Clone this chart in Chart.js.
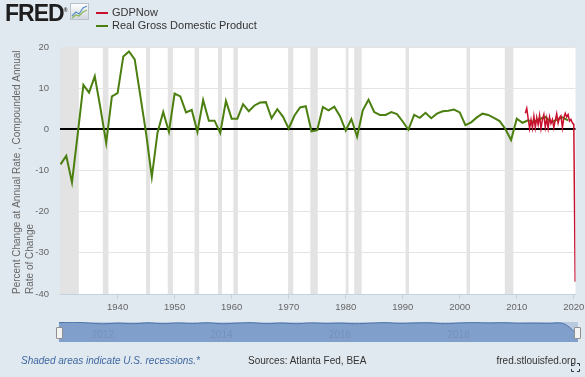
<!DOCTYPE html>
<html>
<head>
<meta charset="utf-8">
<script src="https://cdn.jsdelivr.net/npm/chart.js@4.4.0/dist/chart.umd.min.js"></script>
<style>
  html, body { margin: 0; padding: 0; }
  body {
    width: 585px; height: 377px; position: relative; overflow: hidden;
    background: #e1e9f0; font-family: "Liberation Sans", Arial, sans-serif;
  }
  #main { position: absolute; left: 0; top: 0; }
  #nav { position: absolute; left: 59px; top: 322px; background: #b9cae0; }
  .logo { position: absolute; left: 5px; top: 0px; font: bold 23px "Liberation Sans", Arial, sans-serif; color: #1e1e1e; letter-spacing: -1px; }
  .logo sup { font-size: 5px; letter-spacing: 0; }
  .icon { position: absolute; left: 70px; top: 3px; }
  .legend { position: absolute; left: 96px; font-size: 11px; color: #333; }
  .legend span { display: inline-block; width: 12px; height: 2px; margin-right: 4px; vertical-align: middle; }
  .handle { position: absolute; width: 5px; height: 10px; background: #f3f3f3; border: 1px solid #8f8f8f; border-radius: 1px; }
  .foot { position: absolute; top: 355px; font-size: 10px; color: #333; white-space: nowrap; }
</style>
</head>
<body>
<canvas id="main" width="585" height="377"></canvas>
<canvas id="nav" width="519" height="20"></canvas>

<div class="logo">FRED<sup>®</sup></div>
<svg class="icon" width="19" height="17" viewBox="0 0 19 17">
  <defs><linearGradient id="g" x1="0" y1="0" x2="0" y2="1"><stop offset="0" stop-color="#ffffff"/><stop offset="1" stop-color="#cfd6dc"/></linearGradient></defs>
  <rect x="0.5" y="0.5" width="18" height="16" fill="url(#g)" stroke="#b9c2ca"/>
  <polyline points="2,13 6,9 9,11 13,5 17,3" fill="none" stroke="#5a8fc4" stroke-width="1.2"/>
  <polyline points="2,15 6,12 9,13 13,9 17,7" fill="none" stroke="#8cb85a" stroke-width="1.2"/>
</svg>
<div class="legend" style="top:6px"><span style="background:#c8102e"></span>GDPNow</div>
<div class="legend" style="top:19px"><span style="background:#4b7f10"></span>Real Gross Domestic Product</div>

<div class="handle" style="left:56px; top:327px"></div>
<div class="handle" style="left:574px; top:327px"></div>

<div class="foot" style="left:21px; color:#3d67a0; font-style:italic">Shaded areas indicate U.S. recessions.*</div>
<div class="foot" style="left:248px">Sources: Atlanta Fed, BEA</div>
<div class="foot" style="right:9px">fred.stlouisfed.org</div>
<svg style="position:absolute; left:571px; top:363px" width="9" height="9" viewBox="0 0 9 9">
  <path d="M0.5 3V0.5H3M6 0.5H8.5V3M8.5 6V8.5H6M3 8.5H0.5V6" fill="none" stroke="#333" stroke-width="1"/>
</svg>

<script>
// annual real GDP growth, 1930-2019
const gdpYears = Array.from({ length: 90 }, (_, i) => 1930 + i);
const gdpGrowth = [
  -8.5, -6.4, -12.9, -1.2, 10.8, 8.9, 12.9, 5.1, -3.3, 8.0,
  8.8, 17.7, 18.9, 17.0, 8.0, -1.0, -11.6, -0.8, 4.2, -0.6,
  8.7, 8.0, 4.1, 4.7, -0.6, 7.1, 2.1, 2.1, -0.9, 6.9,
  2.6, 2.6, 6.1, 4.4, 5.8, 6.5, 6.6, 2.7, 4.9, 3.1,
  0.2, 3.3, 5.3, 5.6, -0.5, -0.2, 5.4, 4.6, 5.5, 3.2,
  -0.3, 2.5, -1.8, 4.6, 7.2, 4.2, 3.5, 3.5, 4.2, 3.7,
  1.9, -0.1, 3.5, 2.8, 4.0, 2.7, 3.8, 4.4, 4.5, 4.8,
  4.1, 1.0, 1.7, 2.9, 3.8, 3.5, 2.8, 2.0, 0.1, -2.6,
  2.6, 1.6, 2.2, 1.8, 2.5, 3.0, 1.7, 2.3, 2.9, 2.2
];

// GDPNow quarterly nowcasts, 2011Q3-2020Q2
const gdpNowStart = 2011.5;
const gdpNow = [
  3.9, 5.1, 2.6, 0.2, 2.3, 0.3, 3.2, 0.4, 2.9, 1.1,
  3.4, 0.2, 2.4, 3.6, 0.5, 2.7, 0.3, 3.0, 1.4, 2.4,
  0.4, 2.2, 3.8, 1.5, 2.9, 3.3, 0.4, 2.8, 3.9, 3.0,
  3.6, 2.0, 2.4, 1.6, 1.2, -37.0
];

const recessionStart = [1929.6, 1937.4, 1945.0, 1948.8, 1953.5, 1957.6, 1960.3, 1969.9, 1973.8, 1980.0, 1981.5, 1990.5, 2001.2, 2007.9];
const recessionEnd   = [1933.2, 1938.4, 1945.7, 1949.7, 1954.3, 1958.3, 1961.1, 1970.8, 1975.1, 1980.5, 1982.8, 1991.1, 2001.8, 2009.4];

const xTicks = [1940, 1950, 1960, 1970, 1980, 1990, 2000, 2010, 2020];
const navTicks = [2012, 2014, 2016, 2018];

const yTitle = ["Percent Change at Annual Rate , Compounded Annual", "Rate of Change"];
const tickFont = { family: "Liberation Sans", size: 9.5 };

const gdpNowPoints = gdpNow.map((v, i) => ({ x: gdpNowStart + i * 0.25, y: v }));

const recessionBands = {
  id: "recessionBands",
  beforeDraw(chart) {
    const { ctx, chartArea: a, scales: { x } } = chart;
    ctx.save();
    ctx.fillStyle = "#ffffff";
    ctx.fillRect(a.left, a.top, a.width, a.height);
    ctx.fillStyle = "#e3e3e3";
    recessionStart.forEach((s, i) => {
      const x1 = Math.max(x.getPixelForValue(s), a.left);
      const x2 = Math.min(x.getPixelForValue(recessionEnd[i]), a.right);
      if (x2 > x1) ctx.fillRect(x1, a.top, x2 - x1, a.height);
    });
    ctx.restore();
  }
};

new Chart(document.getElementById("main"), {
  type: "line",
  data: {
    datasets: [
      {
        label: "GDPNow",
        data: gdpNowPoints,
        borderColor: "#c8102e",
        borderWidth: 1.5,
        pointRadius: 0
      },
      {
        label: "Real Gross Domestic Product",
        data: gdpYears.map((y, i) => ({ x: y, y: gdpGrowth[i] })),
        borderColor: "#4b7f10",
        borderWidth: 2,
        pointRadius: 0
      }
    ]
  },
  options: {
    responsive: false,
    animation: false,
    events: [],
    layout: { padding: { left: 0, top: 47, right: 9.5, bottom: 53 } },
    plugins: { legend: { display: false }, tooltip: { enabled: false } },
    scales: {
      x: {
        type: "linear",
        min: 1929.9,
        max: 2020.3,
        afterBuildTicks: s => { s.ticks = xTicks.map(v => ({ value: v })); },
        afterFit: s => { s.height = 30; s.paddingLeft = 0; s.paddingRight = 0; },
        grid: { drawOnChartArea: false, tickLength: 5, color: "#c3d1e0" },
        border: { color: "#c3d1e0" },
        ticks: { padding: 3, color: "#666", font: tickFont, maxRotation: 0, autoSkip: false, callback: v => String(v) }
      },
      y: {
        min: -40,
        max: 20,
        afterFit: s => { s.width = 60; },
        ticks: { stepSize: 10, padding: 11, color: "#666", font: tickFont },
        grid: {
          drawTicks: false,
          color: c => c.tick.value === 0 ? "#000000" : "#e4e4e4",
          lineWidth: c => c.tick.value === 0 ? 2 : 1
        },
        border: { display: false },
        title: {
          display: true,
          text: yTitle,
          align: "start",
          color: "#666",
          font: { family: "Liberation Sans", size: 10, lineHeight: 1.3 },
          padding: { top: 10.5, bottom: 0 }
        }
      }
    }
  },
  plugins: [recessionBands]
});

const navLabels = {
  id: "navLabels",
  afterDatasetsDraw(chart) {
    const { ctx, chartArea: a, scales: { x } } = chart;
    ctx.save();
    ctx.fillStyle = "#7592bd";
    ctx.font = "10px 'Liberation Sans'";
    ctx.textAlign = "left";
    ctx.textBaseline = "middle";
    navTicks.forEach(t => ctx.fillText(String(t), x.getPixelForValue(t) + 3, a.top + 13));
    ctx.restore();
  }
};

new Chart(document.getElementById("nav"), {
  type: "line",
  data: {
    datasets: [{
      data: gdpNowPoints,
      borderColor: "#4a72a8",
      borderWidth: 1,
      backgroundColor: "#809fca",
      fill: "start",
      pointRadius: 0,
      tension: 0.4
    }]
  },
  options: {
    responsive: false,
    animation: false,
    events: [],
    layout: { padding: 0 },
    plugins: { legend: { display: false }, tooltip: { enabled: false } },
    scales: {
      x: { type: "linear", min: gdpNowStart, max: 2020.25, display: false },
      y: { min: -60, max: 6, display: false }
    }
  },
  plugins: [navLabels]
});
</script>
</body>
</html>
